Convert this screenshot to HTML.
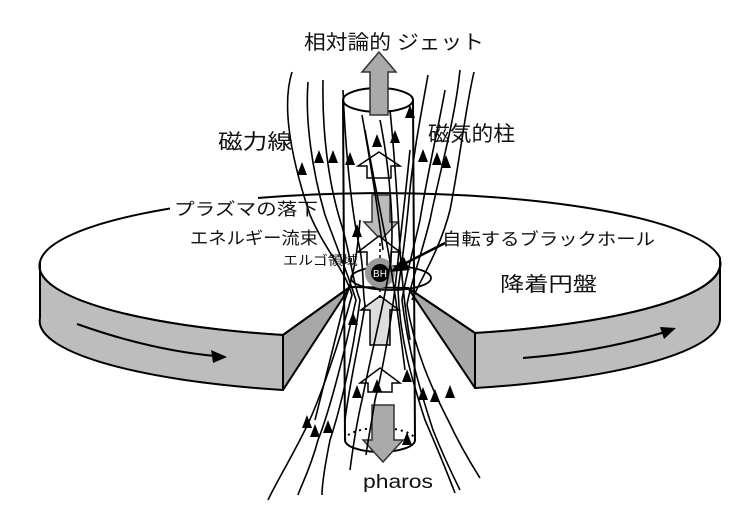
<!DOCTYPE html>
<html><head><meta charset="utf-8"><style>
html,body{margin:0;padding:0;background:#fff}
svg{display:block}
text{font-family:"Liberation Sans","Noto Sans CJK JP",sans-serif;fill:#111}
</style></head><body>
<svg width="756" height="526" viewBox="0 0 756 526" xmlns="http://www.w3.org/2000/svg">
<g stroke="#000" stroke-width="2" stroke-linejoin="round">
<path d="M40,262 A341,72 0 0 1 720,258 L720,262 A341,72 0 0 1 475,333 L408,288 L350,287 L283,335 A341,72 0 0 1 40,262 Z" fill="#fff"/>
<path d="M40,262 A341,72 0 0 0 283,335 L283,390 A341,72 0 0 1 40,318 Z" fill="#bdbdbd"/>
<path d="M283,335 L350,287 L283,390 Z" fill="#a8a8a8"/>
<path d="M720,260 A341,72 0 0 1 475,333 L475,388 A341,72 0 0 0 720,318 Z" fill="#bdbdbd"/>
<path d="M475,333 L408,288 L475,388 Z" fill="#a8a8a8"/>
</g>
<rect x="170" y="194" width="88" height="26" fill="#fff"/>
<path d="M77,324 Q150,350 215,356" fill="none" stroke="#000" stroke-width="2"/>
<polygon points="227,357 211,350 213,363" fill="#000"/>
<path d="M523,358 Q600,352 665,332" fill="none" stroke="#000" stroke-width="2"/>
<polygon points="676,328 660,327 664,339" fill="#000"/>

<g stroke="#000" stroke-width="2" fill="none">
<ellipse cx="378" cy="100" rx="35" ry="12" fill="#fff"/>
<line x1="343" y1="100" x2="345" y2="440"/>
<line x1="413" y1="100" x2="415" y2="440"/>
<path d="M345,440 A35,12 0 0 0 415,440"/>
<path d="M345,440 A35,12 0 0 1 415,440" stroke-dasharray="2,4"/>
</g>
<polygon points="370,115 370,72 362,72 379,52 396,72 388,72 388,115" fill="#aaa" stroke="#333" stroke-width="1.5"/>
<polygon points="372,405 372,440 363,440 383,462 403,440 394,440 394,405" fill="#aaa" stroke="#333" stroke-width="1.5"/>
<polygon points="372,195 372,222 364,222 381,240 398,222 390,222 390,195" fill="#bbb" stroke="#333" stroke-width="1.5"/>
<g fill="#fff" stroke="#000" stroke-width="1.5">
<polygon points="367,178 367,166 358,166 379,152 400,166 391,166 391,178"/>
<polygon points="367,265 367,252 358,252 379,236 400,252 391,252 391,265"/>
<polygon points="370,345 370,310 361,310 380,296 399,310 390,310 390,345" fill="#ddd"/>
<polygon points="368,392 368,383 360,383 380,368 400,383 392,383 392,392"/>
</g>
<ellipse cx="391" cy="278" rx="40" ry="12" fill="none" stroke="#000" stroke-width="1.8"/>
<circle cx="380" cy="273" r="15" fill="#999"/>
<circle cx="380" cy="273" r="9" fill="#000"/>
<text x="380" y="277" font-size="10" text-anchor="middle" style="fill:#fff">BH</text>
<line x1="380" y1="258" x2="380" y2="240" stroke="#000" stroke-width="1.5" stroke-dasharray="3,3"/>
<line x1="380" y1="289" x2="380" y2="300" stroke="#000" stroke-width="1.5" stroke-dasharray="3,3"/>

<g fill="none" stroke="#000" stroke-width="1.6">
<path d="M292,72 C280,110 295,170 310,215 C325,250 345,270 352,295 C340,340 320,400 305,430 C290,460 275,485 268,500"/>
<path d="M308,82 C305,120 312,170 325,215 C338,250 348,275 356,300 C345,350 330,410 318,440 C310,470 300,488 298,495"/>
<path d="M323,80 C322,130 328,180 340,220 C350,250 352,280 360,300 C352,360 340,410 330,440 C325,465 322,485 322,495"/>
<path d="M343,90 C345,140 350,200 358,240 C365,270 362,290 365,305 C360,340 350,380 345,420"/>
<path d="M365,130 C372,170 380,210 388,250 C395,290 400,330 405,370"/>
<path d="M362,115 C370,160 378,210 383,250"/>
<path d="M390,110 C395,160 398,210 400,250 C402,280 405,310 410,340"/>
<path d="M380,120 C390,170 395,230 390,265 C385,300 372,350 362,400 C355,430 352,455 350,470"/>
<path d="M410,150 C405,200 400,240 397,270 C393,310 385,360 375,400 C372,420 368,440 366,455"/>
<path d="M428,75 C420,120 412,160 408,210 C404,250 400,275 398,290 C400,340 412,380 425,420 C438,450 450,480 455,493"/>
<path d="M445,90 C438,130 428,170 420,220 C412,255 405,280 402,300 C408,350 420,390 433,430 C445,460 455,480 460,490"/>
<path d="M460,70 C455,120 440,170 430,220 C420,260 410,285 407,305 C415,350 430,385 448,420 C462,450 475,470 480,478"/>
<path d="M474,72 C465,110 460,160 450,210 C440,250 420,280 412,300"/>
<path d="M360,220 C357,260 352,280 345,300 C335,340 325,380 315,420"/>
</g>
<g fill="#000">
<polygon points="302,162 297,175 307,175"/>
<polygon points="319,150 314,163 324,163"/>
<polygon points="333,150 328,163 338,163"/>
<polygon points="350,152 345,165 355,165"/>
<polygon points="377,134 372,147 382,147"/>
<polygon points="395,130 390,143 400,143"/>
<polygon points="410,105 405,118 415,118"/>
<polygon points="423,149 418,162 428,162"/>
<polygon points="437,152 432,165 442,165"/>
<polygon points="446,155 441,168 451,168"/>
<polygon points="357,224 352,237 362,237"/>
<polygon points="353,312 348,325 358,325"/>
<polygon points="357,385 352,398 362,398"/>
<polygon points="377,379 372,392 382,392"/>
<polygon points="407,369 402,382 412,382"/>
<polygon points="407,432 402,445 412,445"/>
<polygon points="307,415 302,428 312,428"/>
<polygon points="315,424 310,437 320,437"/>
<polygon points="328,420 323,433 333,433"/>
<polygon points="423,387 418,400 428,400"/>
<polygon points="435,389 430,402 440,402"/>
<polygon points="450,385 445,398 455,398"/>
</g>
<line x1="445" y1="243" x2="400" y2="266" stroke="#000" stroke-width="2.5"/>
<polygon points="390,272 404,257 410,270" fill="#000"/>

<text x="304" y="49" font-size="20" textLength="180" lengthAdjust="spacingAndGlyphs">相対論的 ジェット</text>
<text x="218" y="149" font-size="21" textLength="74" lengthAdjust="spacingAndGlyphs">磁力線</text>
<text x="428" y="141" font-size="21" textLength="87" lengthAdjust="spacingAndGlyphs">磁気的柱</text>
<text x="174" y="215" font-size="17" textLength="144" lengthAdjust="spacingAndGlyphs">プラズマの落下</text>
<text x="190" y="244" font-size="17" textLength="128" lengthAdjust="spacingAndGlyphs">エネルギー流束</text>
<text x="283" y="265" font-size="13" textLength="75" lengthAdjust="spacingAndGlyphs">エルゴ領域</text>
<text x="442" y="245" font-size="17" textLength="213" lengthAdjust="spacingAndGlyphs">自転するブラックホール</text>
<text x="500" y="291" font-size="20" textLength="97" lengthAdjust="spacingAndGlyphs">降着円盤</text>
<text x="363" y="488" font-size="19" textLength="70" lengthAdjust="spacingAndGlyphs">pharos</text>
</svg>
</body></html>
